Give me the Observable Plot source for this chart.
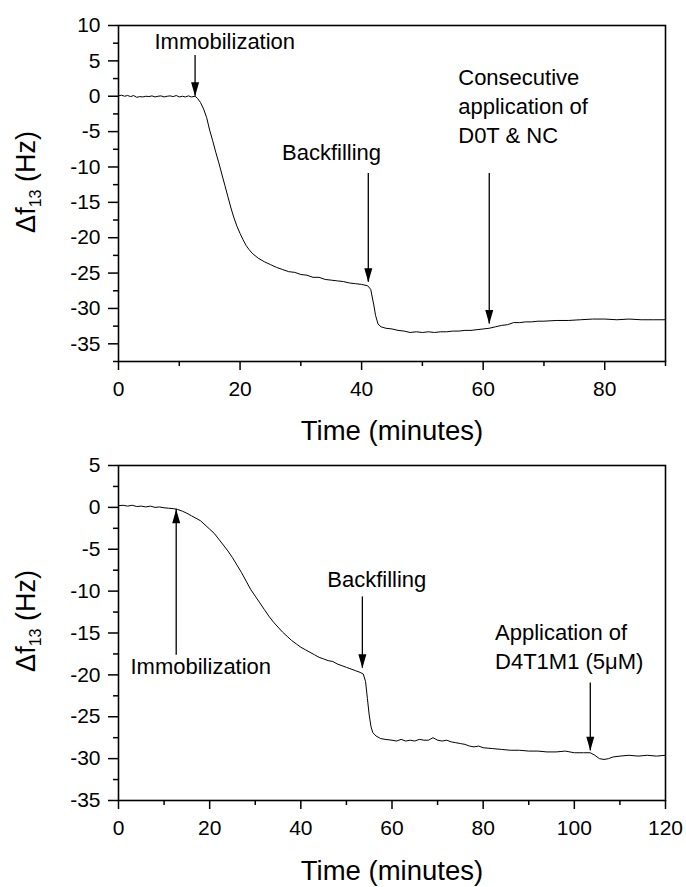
<!DOCTYPE html>
<html><head><meta charset="utf-8">
<script src="https://cdn.jsdelivr.net/npm/d3@7"></script>
<script src="https://cdn.jsdelivr.net/npm/@observablehq/plot@0.6"></script>
<style>
body{margin:0;background:#fff;}
#c{width:686px;}
#c svg{display:block;}
</style></head><body><div id="c"></div>
<script>
// ---------- Panel 1 data ----------
const timeTop = [0,0.5,1,1.5,2,2.5,3,3.5,4,4.5,5,5.5,6,6.5,7,7.5,8,8.5,9,9.5,10,10.5,11,11.5,12,12.6,13,13.5,14,14.5,15,15.5,16,16.5,17,17.5,18,18.5,19,19.5,20,20.5,21,21.5,22,23,24,25,26,27,28,29,30,31,32,33,34,35,36,37,38,39,40,41,41.5,42,42.3,42.7,43.2,44,45,46,47,48,49,50,51,52,53,54,55,56,57,58,59,60,61,62,63,64,65,66,67,68,69,70,72,74,76,78,80,82,84,86,88,90];
const dfTop = [0.05,0.15,0,0.1,-0.05,0.1,-0.15,-0.05,-0.1,0,-0.05,0.05,-0.1,0,0.05,-0.1,0,0.05,-0.05,0.1,-0.1,0,-0.1,0.05,-0.1,0,-0.3,-0.9,-1.8,-3.0,-4.8,-6.3,-7.9,-9.4,-11.0,-12.6,-14.2,-15.8,-17.2,-18.4,-19.4,-20.3,-21.1,-21.7,-22.2,-22.9,-23.4,-23.8,-24.2,-24.5,-24.8,-24.9,-25.2,-25.3,-25.6,-25.6,-25.9,-26.0,-26.1,-26.2,-26.4,-26.5,-26.6,-26.8,-27.3,-29.5,-31.0,-32.2,-32.6,-32.8,-32.9,-33.1,-33.2,-33.4,-33.3,-33.4,-33.3,-33.4,-33.3,-33.3,-33.2,-33.2,-33.1,-33.1,-33.0,-32.9,-32.8,-32.6,-32.4,-32.3,-32.0,-32.0,-31.9,-31.9,-31.8,-31.8,-31.7,-31.7,-31.6,-31.5,-31.5,-31.6,-31.5,-31.6,-31.6,-31.6];
const xTicksTop = [0,20,40,60,80];
const xMinorTop = [10,30,50,70,90];
const yTicksTop = [10,5,0,-5,-10,-15,-20,-25,-30,-35];
const yMinorTop = [7.5,2.5,-2.5,-7.5,-12.5,-17.5,-22.5,-27.5,-32.5,-37.5];
const arrowTimeTop = [12.6,41.1,61.0];
const arrowTailTop = [5.76,-10.92,-10.92];
const arrowTipTop = [0.0,-26.29,-32.2];
const noteTextTop = ["Immobilization","Backfilling","Consecutive\napplication of\nD0T & NC"];
const noteTimeTop = [5.92,26.9,55.9];
const noteDfTop = [8.83,-6.82,4.57];

// ---------- Panel 2 data ----------
const timeBot = [0,1,2,3,4,5,6,7,8,9,10,11,12,13,14,15,16,17,18,19,20,21,22,23,24,25,26,27,28,29,30,31,32,33,34,35,36,37,38,39,40,41,42,43,44,45,46,47,48,49,50,51,52,53,53.7,54.2,54.6,55,55.4,55.8,56.5,57.5,58.5,60,61,62,63,64,65,66,67,68,69,70,71,72,73,74,75,76,77,78,79,80,82,84,86,88,90,92,94,96,98,100,102,103.5,104.5,105.5,106.5,107.5,108.5,110,112,114,116,118,120];
const dfBot = [0.2,0.25,0.15,0.25,0.1,0.15,0.05,0.15,0,0.05,-0.05,-0.1,-0.15,-0.25,-0.45,-0.7,-1.0,-1.3,-1.6,-2.1,-2.6,-3.1,-3.8,-4.5,-5.2,-6.0,-6.9,-7.8,-8.8,-9.8,-10.6,-11.4,-12.2,-13.0,-13.7,-14.3,-14.9,-15.4,-15.9,-16.3,-16.7,-17.0,-17.3,-17.6,-17.9,-18.1,-18.3,-18.4,-18.7,-18.9,-19.1,-19.3,-19.5,-19.7,-19.9,-20.8,-22.8,-24.8,-26.2,-26.9,-27.3,-27.6,-27.7,-27.8,-27.9,-27.7,-27.9,-27.8,-27.9,-27.7,-27.8,-27.8,-27.5,-27.8,-27.9,-27.8,-28.0,-28.1,-28.2,-28.3,-28.5,-28.6,-28.5,-28.7,-28.8,-28.9,-29.0,-29.0,-29.1,-29.1,-29.2,-29.2,-29.1,-29.3,-29.3,-29.3,-29.6,-30.0,-30.1,-30.0,-29.8,-29.7,-29.6,-29.7,-29.6,-29.7,-29.6];
const xTicksBot = [0,20,40,60,80,100,120];
const xMinorBot = [10,30,50,70,90,110];
const yTicksBot = [5,0,-5,-10,-15,-20,-25,-30,-35];
const yMinorBot = [2.5,-2.5,-7.5,-12.5,-17.5,-22.5,-27.5,-32.5];
const arrowTimeBot = [12.66,53.5,103.5];
const arrowTailBot = [-17.65,-10.69,-20.96];
const arrowTipBot = [-0.22,-19.2,-29.05];
const noteTextBot = ["Immobilization","Backfilling","Application of\nD4T1M1 (5\u03bcM)"];
const noteTimeBot = [2.63,45.8,82.6];
const noteDfBot = [-18.0,-7.7,-13.37];

const FONT = "Liberation Sans, Arial, Helvetica, sans-serif";
const headDown = {draw(c){c.moveTo(0,0);c.lineTo(-4,-14);c.lineTo(4,-14);c.closePath();}};
const headUp = {draw(c){c.moveTo(0,0);c.lineTo(-4,14);c.lineTo(4,14);c.closePath();}};

function panel(p) {
  const series = p.time.map((t, i) => ({t, v: p.df[i]}));
  const arrows = p.aTime.map((t, i) => ({t, tail: p.aTail[i], tip: p.aTip[i]}));
  const notes = p.nText.map((s, i) => ({s, t: p.nTime[i], v: p.nDf[i], multi: s.includes("\n")}));
  const svg = Plot.plot({
    width: 686, height: p.height,
    marginTop: p.mt, marginBottom: p.mb, marginLeft: 118, marginRight: 21,
    style: {fontFamily: FONT, color: "black", background: "white", overflow: "visible"},
    x: {domain: p.xd},
    y: {domain: p.yd},
    marks: [
      Plot.axisY({ticks: p.yt, tickSize: 10, tickPadding: 8, fontSize: 21, strokeWidth: 1.5, tickFormat: d => String(d), label: null}),
      Plot.axisY({ticks: p.ym, tickSize: 5, strokeWidth: 1.5, tickFormat: () => "", label: null}),
      Plot.axisX({ticks: p.xt, tickSize: 9, tickPadding: 11, fontSize: 21, strokeWidth: 1.5, tickFormat: d => String(d), label: null}),
      Plot.axisX({ticks: p.xm, tickSize: 5, strokeWidth: 1.5, tickFormat: () => "", label: null}),
      Plot.line(series, {x: "t", y: "v", stroke: "black", strokeWidth: 1}),
      Plot.ruleX(arrows, {x: "t", y1: "tail", y2: "tip", stroke: "black", strokeWidth: 1.3}),
      Plot.dot(arrows.filter(a => a.tip < a.tail), {x: "t", y: "tip", symbol: headDown, fill: "black", stroke: "none"}),
      Plot.dot(arrows.filter(a => a.tip > a.tail), {x: "t", y: "tip", symbol: headUp, fill: "black", stroke: "none"}),
      Plot.text(notes.filter(n => !n.multi), {x: "t", y: "v", text: "s", textAnchor: "start", lineAnchor: "top", fontSize: 22, fill: "black"}),
      Plot.text(notes.filter(n => n.multi), {x: "t", y: "v", text: "s", textAnchor: "start", lineAnchor: "top", lineHeight: 1.32, fontSize: 22, fill: "black"}),
      Plot.frame({stroke: "black", strokeWidth: 1.6})
    ]
  });
  const s = d3.select(svg);
  // y axis title with subscript
  const yl = s.append("text")
    .attr("transform", `translate(35,${p.ylc}) rotate(-90)`)
    .attr("text-anchor", "middle")
    .attr("font-family", FONT).attr("font-size", 27).attr("fill", "black");
  yl.append("tspan").text("\u0394f");
  yl.append("tspan").attr("font-size", 16).attr("dy", 6).text("13");
  yl.append("tspan").attr("dy", -6).text(" (Hz)");
  // x axis title
  s.append("text")
    .attr("x", 392).attr("y", p.xlb)
    .attr("text-anchor", "middle")
    .attr("font-family", FONT).attr("font-size", 27.5).attr("fill", "black")
    .text("Time (minutes)");
  return svg;
}

const c = document.getElementById("c");
c.appendChild(panel({
  time: timeTop, df: dfTop, height: 445, mt: 25, mb: 84,
  xd: [0, 90], yd: [-37.5, 10], xt: xTicksTop, xm: xMinorTop, yt: yTicksTop, ym: yMinorTop,
  aTime: arrowTimeTop, aTail: arrowTailTop, aTip: arrowTipTop,
  nText: noteTextTop, nTime: noteTimeTop, nDf: noteDfTop, ylc: 182, xlb: 440
}));
c.appendChild(panel({
  time: timeBot, df: dfBot, height: 442, mt: 20, mb: 87,
  xd: [0, 120], yd: [-35, 5], xt: xTicksBot, xm: xMinorBot, yt: yTicksBot, ym: yMinorBot,
  aTime: arrowTimeBot, aTail: arrowTailBot, aTip: arrowTipBot,
  nText: noteTextBot, nTime: noteTimeBot, nDf: noteDfBot, ylc: 176, xlb: 435
}));
</script>
</body></html>
